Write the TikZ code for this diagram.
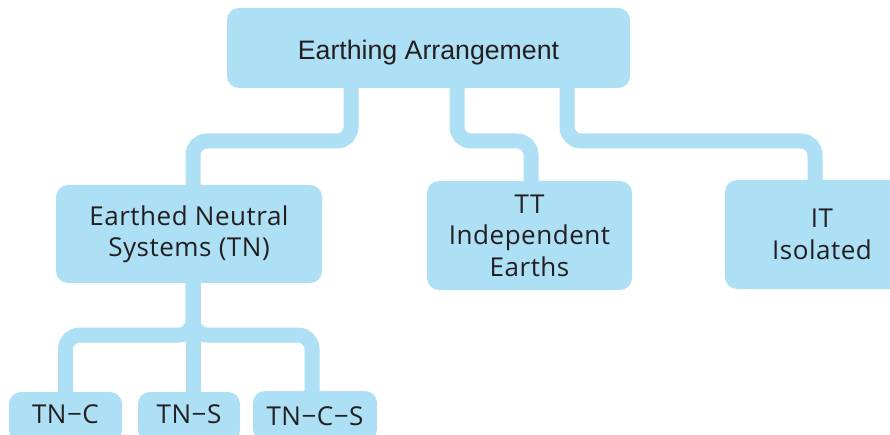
\documentclass[tikz,border=0pt]{standalone}
\usepackage{fontspec}
\setmainfont[LetterSpace=2]{Open Sans}
\newfontfamily\arialfont{Liberation Sans}
\usetikzlibrary{backgrounds}
\definecolor{boxblue}{RGB}{173,223,245}
\definecolor{txt}{RGB}{35,31,32}
\tikzset{
  box/.style={fill=boxblue, rounded corners=12pt, inner sep=0pt, align=center, text=txt,
    font=\fontsize{26}{31.5}\selectfont},
  leaf/.style={box, minimum height=50pt, text depth=0pt},
  conn/.style={draw=boxblue, line width=15pt, rounded corners=14pt},
}
\begin{document}
\begin{tikzpicture}[x=1pt,y=-1pt]
\useasboundingbox (0,0) rectangle (890,435);
\node[box, minimum width=403pt, minimum height=80pt, text height=24pt, text depth=0pt, font=\arialfont\fontsize{26.7}{30}\selectfont] (top) at (428.5,48) {Earthing Arrangement};
\node[box, minimum width=266pt, minimum height=98pt] (tn) at (189,234) {Earthed Neutral\\Systems (TN)};
\node[box, minimum width=205pt, minimum height=109pt] (tt) at (529.5,235.5) {TT\\Independent\\Earths};
\node[box, minimum width=194pt, minimum height=109pt] (it) at (822,234.5) {IT\\Isolated};
\node[leaf, minimum width=113pt, text height=12pt] (tnc) at (65.5,417) {TN−C};
\node[leaf, minimum width=102pt, text height=12pt] (tns) at (189,417) {TN−S};
\node[leaf, minimum width=124pt, text height=18pt] (tncs) at (315,416) {TN−C−S};
\coordinate (h1) at (0,141);
\coordinate (h2) at (0,335);
\begin{scope}[on background layer]
\draw[conn] ([xshift=-77.5pt]top.center) |- ([xshift=4pt]tn.center |- h1) -- ([xshift=4pt]tn.center);
\draw[conn] ([xshift=28.5pt]top.center) |- ([xshift=1.5pt]tt.center |- h1) -- ([xshift=1.5pt]tt.center);
\draw[conn] ([xshift=138.5pt]top.center) |- ([xshift=-7pt]it.center |- h1) -- ([xshift=-7pt]it.center);
\draw[conn] ([xshift=4pt]tn.center) |- (tnc.center |- h2) -- (tnc.center);
\draw[conn] ([xshift=4pt]tn.center) |- ([xshift=-3pt]tncs.center |- h2) -- ([xshift=-3pt]tncs.center);
\draw[conn] ([xshift=4pt]tn.center) -- ([xshift=4pt]tns.center);
\end{scope}
\end{tikzpicture}
\end{document}
